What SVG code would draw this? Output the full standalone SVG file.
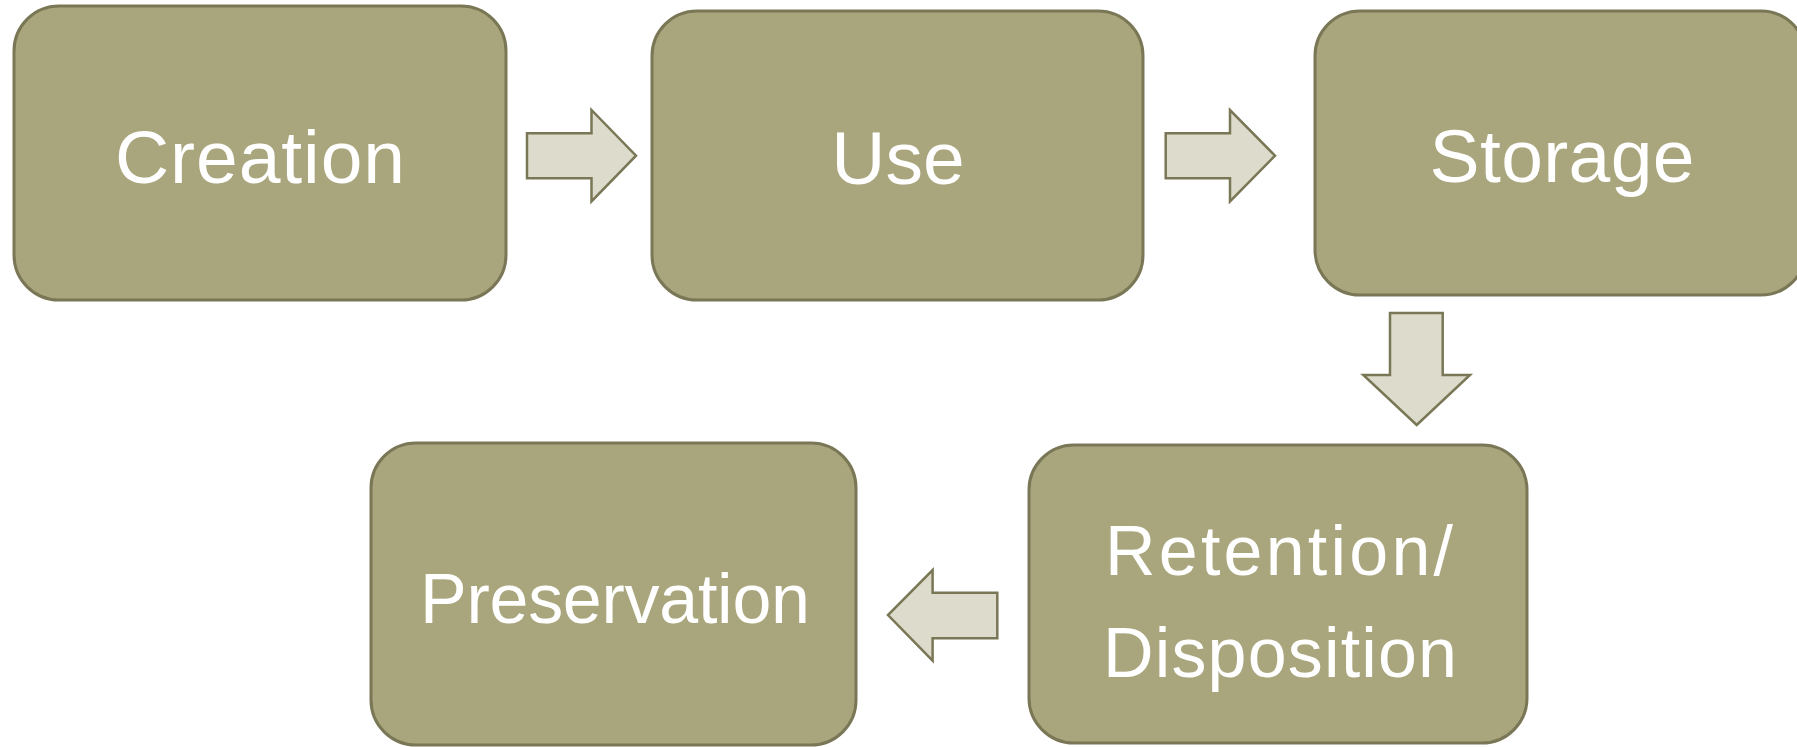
<svg xmlns="http://www.w3.org/2000/svg" width="1797" height="747" viewBox="0 0 1797 747">
  <style>
    .box { fill: #A9A67D; stroke: #7A7756; stroke-width: 3; }
    .arrow { fill: #DDDBCB; stroke: #7A7756; stroke-width: 2.5; stroke-linejoin: miter; }
    .label { font-family: "Liberation Sans", Arial, sans-serif; fill: #FFFFFF; text-anchor: middle; }
    .top { font-size: 75px; }
    .bottom { font-size: 70px; }
  </style>
  <rect width="1797" height="747" fill="#FFFFFF"/>

  <g id="node-creation">
    <rect class="box" x="14" y="6" width="492" height="294" rx="45" ry="45"/>
    <text class="label top" x="260" y="183" textLength="290" lengthAdjust="spacing">Creation</text>
  </g>

  <g id="node-use">
    <rect class="box" x="652" y="11" width="491" height="289" rx="45" ry="45"/>
    <text class="label top" x="898" y="184">Use</text>
  </g>

  <g id="node-storage">
    <rect class="box" x="1315" y="11" width="491" height="284" rx="45" ry="45"/>
    <text class="label top" x="1562" y="182" textLength="265" lengthAdjust="spacing">Storage</text>
  </g>

  <g id="node-retention">
    <rect class="box" x="1029" y="445" width="498" height="298" rx="45" ry="45"/>
    <text class="label bottom" x="1279" y="575" textLength="348" lengthAdjust="spacing">Retention/</text>
    <text class="label bottom" x="1280" y="677" textLength="354" lengthAdjust="spacing">Disposition</text>
  </g>

  <g id="node-preservation">
    <rect class="box" x="371" y="443" width="485" height="302" rx="45" ry="45"/>
    <text class="label bottom" x="615" y="623" textLength="390" lengthAdjust="spacing">Preservation</text>
  </g>

  <g id="connectors">
    <!-- Creation to Use -->
    <polygon class="arrow" points="527,133.3 591.5,133.3 591.5,110 636,155.7 591.5,201.4 591.5,178.3 527,178.3"/>
    <!-- Use to Storage -->
    <polygon class="arrow" points="1165.7,133.3 1230,133.3 1230,110 1275,155.7 1230,201.4 1230,178.3 1165.7,178.3"/>
    <!-- Storage to Retention/Disposition -->
    <polygon class="arrow" points="1390,313 1442.7,313 1442.7,375 1470,375 1416.7,425 1363.3,375 1390,375"/>
    <!-- Retention/Disposition to Preservation -->
    <polygon class="arrow" points="997.3,592.7 932.6,592.7 932.6,570 888,615 932.6,660.7 932.6,638.3 997.3,638.3"/>
  </g>
</svg>
